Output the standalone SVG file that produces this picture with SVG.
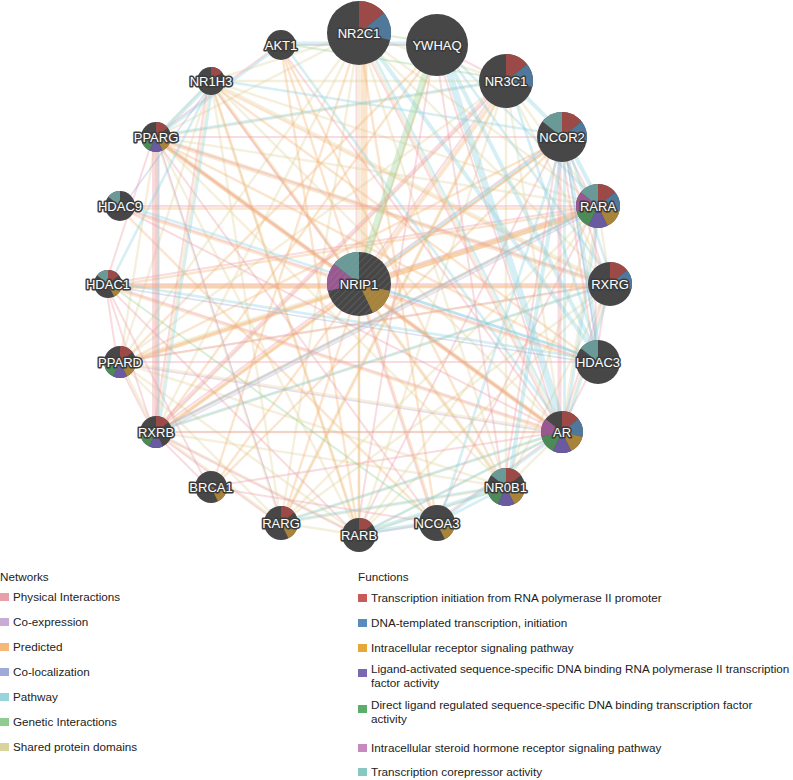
<svg xmlns="http://www.w3.org/2000/svg" xmlns:xlink="http://www.w3.org/1999/xlink" width="793" height="780" viewBox="0 0 793 780">
<style>
.e line{stroke-opacity:.34;stroke-linecap:round}
.sd{stroke:#e2d49a;stroke-width:2.4}
.pr{stroke:#f2b46e;stroke-width:2.4}
.ph{stroke:#ec98a4;stroke-width:2}
.pw{stroke:#88d0e0;stroke-width:2.6}
.ge{stroke:#8fd08f;stroke-width:2}
.co{stroke:#c49ad4;stroke-width:1.6}
.cl{stroke:#97a4dc;stroke-width:1.6}
.w3{stroke-width:4}
.w5{stroke-width:7}
.nd{fill:#474747}
.f0{fill:#9c4a48}.f1{fill:#50789a}.f2{fill:#a8843a}.f3{fill:#6a5aa0}.f4{fill:#4e8a58}.f5{fill:#9a5890}.f6{fill:#6a9a98}
.lb{font-family:"Liberation Sans",Arial,sans-serif;font-size:13px;fill:#fff;stroke:#3c3c3c;stroke-width:3.2;stroke-linejoin:round;paint-order:stroke;text-anchor:middle}
.lg{font-family:"Liberation Sans",Arial,sans-serif;font-size:11.7px;fill:#222}
</style>
<defs>
<path id="s0" d="M0 0L0 -1A1 1 0 0 1 .7818 -.6235Z"/>
<path id="s1" d="M0 0L.7818 -.6235A1 1 0 0 1 .9749 .2225Z"/>
<path id="s2" d="M0 0L.9749 .2225A1 1 0 0 1 .4339 .901Z"/>
<path id="s3" d="M0 0L.4339 .901A1 1 0 0 1 -.4339 .901Z"/>
<path id="s4" d="M0 0L-.4339 .901A1 1 0 0 1 -.9749 .2225Z"/>
<path id="s5" d="M0 0L-.9749 .2225A1 1 0 0 1 -.7818 -.6235Z"/>
<path id="s6" d="M0 0L-.7818 -.6235A1 1 0 0 1 0 -1Z"/>
<pattern id="hatch" width="5" height="5" patternUnits="userSpaceOnUse" patternTransform="rotate(45)">
<line x1="0" y1="0" x2="0" y2="5" stroke="#9a9a9a" stroke-width="1" stroke-opacity=".45"/>
</pattern>
</defs>
<rect width="793" height="780" fill="#fff"/>
<g id="connectors" class="e">
<g id="shared-domains">
<line class="sd" x1="359" y1="33" x2="506" y2="81"/>
<line class="sd" x1="359" y1="33" x2="598" y2="206"/>
<line class="sd" x1="359" y1="33" x2="610" y2="284"/>
<line class="sd" x1="359" y1="33" x2="562" y2="432"/>
<line class="sd" x1="359" y1="33" x2="506" y2="487"/>
<line class="sd" x1="359" y1="33" x2="359" y2="535"/>
<line class="sd" x1="359" y1="33" x2="281" y2="523"/>
<line class="sd" x1="359" y1="33" x2="156" y2="432"/>
<line class="sd" x1="359" y1="33" x2="120" y2="362"/>
<line class="sd" x1="359" y1="33" x2="156" y2="137"/>
<line class="sd" x1="359" y1="33" x2="211" y2="81"/>
<line class="sd" x1="506" y1="81" x2="598" y2="206"/>
<line class="sd" x1="506" y1="81" x2="610" y2="284"/>
<line class="sd" x1="506" y1="81" x2="562" y2="432"/>
<line class="sd" x1="506" y1="81" x2="506" y2="487"/>
<line class="sd" x1="506" y1="81" x2="359" y2="535"/>
<line class="sd" x1="506" y1="81" x2="281" y2="523"/>
<line class="sd" x1="506" y1="81" x2="156" y2="432"/>
<line class="sd" x1="506" y1="81" x2="120" y2="362"/>
<line class="sd" x1="506" y1="81" x2="156" y2="137"/>
<line class="sd" x1="506" y1="81" x2="211" y2="81"/>
<line class="sd" x1="598" y1="206" x2="610" y2="284"/>
<line class="sd" x1="598" y1="206" x2="562" y2="432"/>
<line class="sd" x1="598" y1="206" x2="506" y2="487"/>
<line class="sd" x1="598" y1="206" x2="359" y2="535"/>
<line class="sd" x1="598" y1="206" x2="281" y2="523"/>
<line class="sd" x1="598" y1="206" x2="156" y2="432"/>
<line class="sd" x1="598" y1="206" x2="120" y2="362"/>
<line class="sd" x1="598" y1="206" x2="156" y2="137"/>
<line class="sd" x1="598" y1="206" x2="211" y2="81"/>
<line class="sd" x1="610" y1="284" x2="562" y2="432"/>
<line class="sd" x1="610" y1="284" x2="506" y2="487"/>
<line class="sd" x1="610" y1="284" x2="359" y2="535"/>
<line class="sd" x1="610" y1="284" x2="281" y2="523"/>
<line class="sd" x1="610" y1="284" x2="156" y2="432"/>
<line class="sd" x1="610" y1="284" x2="120" y2="362"/>
<line class="sd" x1="610" y1="284" x2="156" y2="137"/>
<line class="sd" x1="610" y1="284" x2="211" y2="81"/>
<line class="sd" x1="562" y1="432" x2="506" y2="487"/>
<line class="sd" x1="562" y1="432" x2="359" y2="535"/>
<line class="sd" x1="562" y1="432" x2="281" y2="523"/>
<line class="sd" x1="562" y1="432" x2="156" y2="432"/>
<line class="sd" x1="562" y1="432" x2="120" y2="362"/>
<line class="sd" x1="562" y1="432" x2="156" y2="137"/>
<line class="sd" x1="562" y1="432" x2="211" y2="81"/>
<line class="sd" x1="506" y1="487" x2="359" y2="535"/>
<line class="sd" x1="506" y1="487" x2="281" y2="523"/>
<line class="sd" x1="506" y1="487" x2="156" y2="432"/>
<line class="sd" x1="506" y1="487" x2="120" y2="362"/>
<line class="sd" x1="506" y1="487" x2="156" y2="137"/>
<line class="sd" x1="506" y1="487" x2="211" y2="81"/>
<line class="sd" x1="359" y1="535" x2="281" y2="523"/>
<line class="sd" x1="359" y1="535" x2="156" y2="432"/>
<line class="sd" x1="359" y1="535" x2="120" y2="362"/>
<line class="sd" x1="359" y1="535" x2="156" y2="137"/>
<line class="sd" x1="359" y1="535" x2="211" y2="81"/>
<line class="sd" x1="281" y1="523" x2="156" y2="432"/>
<line class="sd" x1="281" y1="523" x2="120" y2="362"/>
<line class="sd" x1="281" y1="523" x2="156" y2="137"/>
<line class="sd" x1="281" y1="523" x2="211" y2="81"/>
<line class="sd" x1="156" y1="432" x2="120" y2="362"/>
<line class="sd" x1="156" y1="432" x2="156" y2="137"/>
<line class="sd" x1="156" y1="432" x2="211" y2="81"/>
<line class="sd" x1="120" y1="362" x2="156" y2="137"/>
<line class="sd" x1="120" y1="362" x2="211" y2="81"/>
<line class="sd" x1="156" y1="137" x2="211" y2="81"/>
</g>
<g id="predicted" transform="translate(0,2.5)">
<line class="pr w5" x1="364" y1="33" x2="364" y2="284"/>
<line class="pr" x1="359" y1="284" x2="437" y2="45"/>
<line class="pr w3" x1="359" y1="284" x2="506" y2="81"/>
<line class="pr" x1="359" y1="284" x2="562" y2="137"/>
<line class="pr w3" x1="359" y1="284" x2="598" y2="206"/>
<line class="pr" x1="359" y1="284" x2="610" y2="284"/>
<line class="pr" x1="359" y1="284" x2="598" y2="362"/>
<line class="pr w3" x1="359" y1="284" x2="562" y2="432"/>
<line class="pr" x1="359" y1="284" x2="506" y2="487"/>
<line class="pr" x1="359" y1="284" x2="437" y2="523"/>
<line class="pr" x1="359" y1="284" x2="359" y2="535"/>
<line class="pr" x1="359" y1="284" x2="281" y2="523"/>
<line class="pr" x1="359" y1="284" x2="211" y2="487"/>
<line class="pr w3" x1="359" y1="284" x2="156" y2="432"/>
<line class="pr" x1="359" y1="284" x2="120" y2="362"/>
<line class="pr w3" x1="359" y1="284" x2="108" y2="284"/>
<line class="pr" x1="359" y1="284" x2="120" y2="206"/>
<line class="pr w3" x1="359" y1="284" x2="156" y2="137"/>
<line class="pr" x1="359" y1="284" x2="211" y2="81"/>
<line class="pr" x1="359" y1="284" x2="281" y2="45"/>
<line class="pr w3" x1="108" y1="284" x2="610" y2="284"/>
<line class="pr w3" x1="120" y1="362" x2="598" y2="206"/>
<line class="pr" x1="120" y1="206" x2="598" y2="206"/>
<line class="pr" x1="211" y1="81" x2="359" y2="535"/>
<line class="pr" x1="156" y1="137" x2="562" y2="432"/>
<line class="pr" x1="281" y1="45" x2="506" y2="487"/>
<line class="pr" x1="120" y1="206" x2="437" y2="523"/>
<line class="pr" x1="108" y1="284" x2="562" y2="432"/>
<line class="pr" x1="211" y1="487" x2="562" y2="137"/>
<line class="pr" x1="281" y1="523" x2="506" y2="81"/>
<line class="pr" x1="211" y1="81" x2="598" y2="362"/>
<line class="pr" x1="156" y1="137" x2="598" y2="362"/>
<line class="pr" x1="437" y1="45" x2="156" y2="432"/>
<line class="pr" x1="437" y1="45" x2="120" y2="362"/>
<line class="pr" x1="562" y1="137" x2="156" y2="432"/>
<line class="pr" x1="562" y1="137" x2="120" y2="362"/>
<line class="pr" x1="359" y1="33" x2="437" y2="523"/>
<line class="pr" x1="359" y1="33" x2="211" y2="487"/>
<line class="pr" x1="281" y1="45" x2="359" y2="535"/>
<line class="pr" x1="211" y1="81" x2="610" y2="284"/>
<line class="pr" x1="156" y1="137" x2="610" y2="284"/>
<line class="pr" x1="108" y1="284" x2="598" y2="206"/>
</g>
<g id="physical" transform="translate(-2.5,0)">
<line class="ph w5" x1="158" y1="137" x2="158" y2="432"/>
<line class="ph" x1="359" y1="284" x2="359" y2="33"/>
<line class="ph" x1="359" y1="284" x2="506" y2="81"/>
<line class="ph" x1="359" y1="284" x2="598" y2="206"/>
<line class="ph" x1="359" y1="284" x2="610" y2="284"/>
<line class="ph" x1="359" y1="284" x2="598" y2="362"/>
<line class="ph" x1="359" y1="284" x2="562" y2="432"/>
<line class="ph" x1="359" y1="284" x2="437" y2="523"/>
<line class="ph" x1="359" y1="284" x2="108" y2="284"/>
<line class="ph" x1="359" y1="284" x2="120" y2="206"/>
<line class="ph" x1="359" y1="284" x2="156" y2="137"/>
<line class="ph" x1="359" y1="284" x2="211" y2="81"/>
<line class="ph" x1="562" y1="137" x2="598" y2="206"/>
<line class="ph" x1="562" y1="137" x2="610" y2="284"/>
<line class="ph w3" x1="562" y1="137" x2="562" y2="432"/>
<line class="ph" x1="562" y1="137" x2="156" y2="432"/>
<line class="ph" x1="562" y1="137" x2="156" y2="137"/>
<line class="ph" x1="562" y1="137" x2="359" y2="535"/>
<line class="ph" x1="598" y1="362" x2="598" y2="206"/>
<line class="ph" x1="598" y1="362" x2="610" y2="284"/>
<line class="ph" x1="598" y1="362" x2="562" y2="432"/>
<line class="ph" x1="598" y1="362" x2="562" y2="137"/>
<line class="ph" x1="598" y1="362" x2="120" y2="362"/>
<line class="ph" x1="108" y1="284" x2="156" y2="137"/>
<line class="ph" x1="108" y1="284" x2="120" y2="362"/>
<line class="ph" x1="108" y1="284" x2="156" y2="432"/>
<line class="ph" x1="108" y1="284" x2="562" y2="432"/>
<line class="ph" x1="108" y1="284" x2="359" y2="535"/>
<line class="ph" x1="108" y1="284" x2="598" y2="206"/>
<line class="ph" x1="108" y1="284" x2="211" y2="487"/>
<line class="ph" x1="120" y1="206" x2="562" y2="432"/>
<line class="ph" x1="120" y1="206" x2="598" y2="206"/>
<line class="ph" x1="437" y1="523" x2="562" y2="432"/>
<line class="ph" x1="437" y1="523" x2="598" y2="206"/>
<line class="ph" x1="437" y1="523" x2="156" y2="137"/>
<line class="ph" x1="437" y1="523" x2="359" y2="535"/>
<line class="ph" x1="211" y1="487" x2="562" y2="432"/>
<line class="ph" x1="211" y1="487" x2="437" y2="523"/>
<line class="ph" x1="211" y1="487" x2="156" y2="432"/>
<line class="ph" x1="281" y1="45" x2="562" y2="432"/>
<line class="ph" x1="281" y1="45" x2="156" y2="137"/>
<line class="ph" x1="281" y1="45" x2="437" y2="45"/>
<line class="ph" x1="437" y1="45" x2="506" y2="487"/>
<line class="ph" x1="437" y1="45" x2="562" y2="432"/>
<line class="ph" x1="437" y1="45" x2="359" y2="535"/>
<line class="ph" x1="437" y1="45" x2="506" y2="81"/>
<line class="ph w3" x1="506" y1="81" x2="156" y2="432"/>
<line class="ph" x1="598" y1="206" x2="156" y2="432"/>
<line class="ph" x1="610" y1="284" x2="156" y2="137"/>
<line class="ph" x1="610" y1="284" x2="120" y2="362"/>
<line class="ph" x1="610" y1="284" x2="562" y2="432"/>
<line class="ph" x1="156" y1="432" x2="120" y2="362"/>
<line class="ph" x1="156" y1="432" x2="211" y2="81"/>
<line class="ph" x1="156" y1="432" x2="359" y2="535"/>
<line class="ph" x1="156" y1="432" x2="281" y2="523"/>
<line class="ph" x1="156" y1="432" x2="562" y2="432"/>
<line class="ph" x1="506" y1="487" x2="562" y2="137"/>
<line class="ph" x1="359" y1="33" x2="562" y2="432"/>
</g>
<g id="pathway" transform="translate(2.5,-1.5)">
<line class="pw w3" x1="562" y1="137" x2="598" y2="206"/>
<line class="pw" x1="562" y1="137" x2="610" y2="284"/>
<line class="pw w3" x1="562" y1="137" x2="598" y2="362"/>
<line class="pw" x1="562" y1="137" x2="562" y2="432"/>
<line class="pw w3" x1="562" y1="137" x2="506" y2="487"/>
<line class="pw" x1="562" y1="137" x2="437" y2="523"/>
<line class="pw" x1="506" y1="81" x2="598" y2="362"/>
<line class="pw w3" x1="506" y1="81" x2="562" y2="137"/>
<line class="pw w5" x1="437" y1="45" x2="562" y2="432"/>
<line class="pw w3" x1="437" y1="45" x2="598" y2="362"/>
<line class="pw" x1="437" y1="45" x2="598" y2="206"/>
<line class="pw" x1="437" y1="45" x2="610" y2="284"/>
<line class="pw w3" x1="359" y1="33" x2="598" y2="362"/>
<line class="pw" x1="359" y1="33" x2="562" y2="432"/>
<line class="pw w3" x1="359" y1="535" x2="506" y2="487"/>
<line class="pw w3" x1="359" y1="535" x2="437" y2="523"/>
<line class="pw" x1="359" y1="535" x2="562" y2="432"/>
<line class="pw" x1="281" y1="523" x2="562" y2="432"/>
<line class="pw" x1="281" y1="523" x2="506" y2="487"/>
<line class="pw" x1="598" y1="206" x2="562" y2="432"/>
<line class="pw" x1="610" y1="284" x2="562" y2="432"/>
<line class="pw" x1="598" y1="206" x2="156" y2="432"/>
<line class="pw" x1="610" y1="284" x2="156" y2="432"/>
<line class="pw" x1="156" y1="137" x2="156" y2="432"/>
<line class="pw" x1="211" y1="81" x2="156" y2="432"/>
<line class="pw" x1="108" y1="284" x2="598" y2="362"/>
<line class="pw" x1="120" y1="206" x2="598" y2="362"/>
<line class="pw" x1="359" y1="284" x2="598" y2="362"/>
<line class="pw" x1="359" y1="284" x2="562" y2="137"/>
<line class="pw w3" x1="281" y1="45" x2="437" y2="45"/>
<line class="pw" x1="281" y1="45" x2="562" y2="432"/>
<line class="pw" x1="281" y1="45" x2="156" y2="137"/>
<line class="pw w3" x1="211" y1="81" x2="156" y2="137"/>
<line class="pw" x1="211" y1="81" x2="108" y2="284"/>
<line class="pw" x1="211" y1="81" x2="562" y2="137"/>
<line class="pw" x1="156" y1="137" x2="506" y2="81"/>
<line class="pw" x1="437" y1="523" x2="562" y2="432"/>
<line class="pw" x1="437" y1="523" x2="506" y2="487"/>
</g>
<g id="genetic" transform="translate(-1.5,-2)">
<line class="ge w5" x1="437" y1="45" x2="359" y2="284"/>
<line class="ge" x1="281" y1="45" x2="506" y2="81"/>
<line class="ge" x1="359" y1="33" x2="437" y2="45"/>
<line class="ge" x1="108" y1="284" x2="437" y2="523"/>
</g>
<g id="coexp-coloc" transform="translate(1.5,2)">
<line class="co" x1="598" y1="206" x2="156" y2="432"/>
<line class="co" x1="562" y1="432" x2="120" y2="362"/>
<line class="co" x1="281" y1="523" x2="156" y2="137"/>
<line class="cl" x1="562" y1="137" x2="598" y2="362"/>
<line class="cl" x1="598" y1="362" x2="108" y2="284"/>
<line class="cl" x1="211" y1="81" x2="120" y2="206"/>
</g>
</g>
<g id="n-NR2C1" transform="translate(359,33)"><circle r="32" class="nd"/><use href="#s0" class="f0" transform="scale(32)"/><use href="#s1" class="f1" transform="scale(32)"/><text class="lb" y="4.5">NR2C1</text></g>
<g id="n-YWHAQ" transform="translate(437,45)"><circle r="31" class="nd"/><text class="lb" y="4.5">YWHAQ</text></g>
<g id="n-NR3C1" transform="translate(506,81)"><circle r="27" class="nd"/><use href="#s0" class="f0" transform="scale(27)"/><use href="#s1" class="f1" transform="scale(27)"/><text class="lb" y="4.5">NR3C1</text></g>
<g id="n-NCOR2" transform="translate(562,137)"><circle r="25" class="nd"/><use href="#s0" class="f0" transform="scale(25)"/><use href="#s1" class="f1" transform="scale(25)"/><use href="#s6" class="f6" transform="scale(25)"/><text class="lb" y="4.5">NCOR2</text></g>
<g id="n-RARA" transform="translate(598,206)"><circle r="22" class="nd"/><use href="#s0" class="f0" transform="scale(22)"/><use href="#s1" class="f1" transform="scale(22)"/><use href="#s2" class="f2" transform="scale(22)"/><use href="#s3" class="f3" transform="scale(22)"/><use href="#s4" class="f4" transform="scale(22)"/><use href="#s5" class="f5" transform="scale(22)"/><use href="#s6" class="f6" transform="scale(22)"/><text class="lb" y="4.5">RARA</text></g>
<g id="n-RXRG" transform="translate(610,284)"><circle r="22" class="nd"/><use href="#s0" class="f0" transform="scale(22)"/><use href="#s1" class="f1" transform="scale(22)"/><text class="lb" y="4.5">RXRG</text></g>
<g id="n-HDAC3" transform="translate(598,362)"><circle r="22" class="nd"/><use href="#s6" class="f6" transform="scale(22)"/><text class="lb" y="4.5">HDAC3</text></g>
<g id="n-AR" transform="translate(562,432)"><circle r="21" class="nd"/><use href="#s0" class="f0" transform="scale(21)"/><use href="#s1" class="f1" transform="scale(21)"/><use href="#s2" class="f2" transform="scale(21)"/><use href="#s3" class="f3" transform="scale(21)"/><use href="#s4" class="f4" transform="scale(21)"/><use href="#s5" class="f5" transform="scale(21)"/><text class="lb" y="4.5">AR</text></g>
<g id="n-NR0B1" transform="translate(506,487)"><circle r="19" class="nd"/><use href="#s0" class="f0" transform="scale(19)"/><use href="#s2" class="f2" transform="scale(19)"/><use href="#s3" class="f3" transform="scale(19)"/><use href="#s4" class="f4" transform="scale(19)"/><use href="#s6" class="f6" transform="scale(19)"/><text class="lb" y="4.5">NR0B1</text></g>
<g id="n-NCOA3" transform="translate(437,523)"><circle r="18" class="nd"/><use href="#s2" class="f2" transform="scale(18)"/><text class="lb" y="4.5">NCOA3</text></g>
<g id="n-RARB" transform="translate(359,535)"><circle r="17" class="nd"/><use href="#s0" class="f0" transform="scale(17)"/><text class="lb" y="4.5">RARB</text></g>
<g id="n-RARG" transform="translate(281,523)"><circle r="17" class="nd"/><use href="#s0" class="f0" transform="scale(17)"/><use href="#s2" class="f2" transform="scale(17)"/><text class="lb" y="4.5">RARG</text></g>
<g id="n-BRCA1" transform="translate(211,487)"><circle r="16" class="nd"/><use href="#s2" class="f2" transform="scale(16)"/><text class="lb" y="4.5">BRCA1</text></g>
<g id="n-RXRB" transform="translate(156,432)"><circle r="16" class="nd"/><use href="#s0" class="f0" transform="scale(16)"/><use href="#s3" class="f3" transform="scale(16)"/><use href="#s4" class="f4" transform="scale(16)"/><text class="lb" y="4.5">RXRB</text></g>
<g id="n-PPARD" transform="translate(120,362)"><circle r="16" class="nd"/><use href="#s0" class="f0" transform="scale(16)"/><use href="#s2" class="f2" transform="scale(16)"/><use href="#s3" class="f3" transform="scale(16)"/><use href="#s4" class="f4" transform="scale(16)"/><text class="lb" y="4.5">PPARD</text></g>
<g id="n-HDAC1" transform="translate(108,284)"><circle r="14" class="nd"/><use href="#s0" class="f0" transform="scale(14)"/><use href="#s2" class="f2" transform="scale(14)"/><use href="#s6" class="f6" transform="scale(14)"/><text class="lb" y="4.5">HDAC1</text></g>
<g id="n-HDAC9" transform="translate(120,206)"><circle r="15" class="nd"/><use href="#s6" class="f6" transform="scale(15)"/><text class="lb" y="4.5">HDAC9</text></g>
<g id="n-PPARG" transform="translate(156,137)"><circle r="15" class="nd"/><use href="#s0" class="f0" transform="scale(15)"/><use href="#s2" class="f2" transform="scale(15)"/><use href="#s3" class="f3" transform="scale(15)"/><use href="#s4" class="f4" transform="scale(15)"/><text class="lb" y="4.5">PPARG</text></g>
<g id="n-NR1H3" transform="translate(211,81)"><circle r="14" class="nd"/><use href="#s0" class="f0" transform="scale(14)"/><text class="lb" y="4.5">NR1H3</text></g>
<g id="n-AKT1" transform="translate(281,45)"><circle r="15" class="nd"/><text class="lb" y="4.5">AKT1</text></g>
<g id="n-NRIP1" transform="translate(359,284)"><circle r="32" class="nd"/><use href="#s2" class="f2" transform="scale(32)"/><use href="#s5" class="f5" transform="scale(32)"/><use href="#s6" class="f6" transform="scale(32)"/><circle r="32" fill="url(#hatch)"/><text class="lb" y="4.5">NRIP1</text></g>
<g id="legend-networks">
<text class="lg" x="0" y="581">Networks</text>
<rect x="0" y="593" width="9" height="8" fill="#e8a0a8"/><text class="lg" x="13" y="601">Physical Interactions</text>
<rect x="0" y="618" width="9" height="8" fill="#c8acd4"/><text class="lg" x="13" y="626">Co-expression</text>
<rect x="0" y="643" width="9" height="8" fill="#f5b878"/><text class="lg" x="13" y="651">Predicted</text>
<rect x="0" y="668" width="9" height="8" fill="#a0aad8"/><text class="lg" x="13" y="676">Co-localization</text>
<rect x="0" y="693" width="9" height="8" fill="#98d4dc"/><text class="lg" x="13" y="701">Pathway</text>
<rect x="0" y="718" width="9" height="8" fill="#90cc90"/><text class="lg" x="13" y="726">Genetic Interactions</text>
<rect x="0" y="743" width="9" height="8" fill="#d8d4a0"/><text class="lg" x="13" y="751">Shared protein domains</text>
</g>
<g id="legend-functions">
<text class="lg" x="358" y="581">Functions</text>
<rect x="358" y="594" width="9" height="8" fill="#c85a58"/><text class="lg" x="371" y="602">Transcription initiation from RNA polymerase II promoter</text>
<rect x="358" y="619" width="9" height="8" fill="#5a8cbb"/><text class="lg" x="371" y="627">DNA-templated transcription, initiation</text>
<rect x="358" y="644" width="9" height="8" fill="#e8a838"/><text class="lg" x="371" y="652">Intracellular receptor signaling pathway</text>
<rect x="358" y="669" width="9" height="8" fill="#7a68b0"/><text class="lg" x="371" y="673">Ligand-activated sequence-specific DNA binding RNA polymerase II transcription</text><text class="lg" x="371" y="687">factor activity</text>
<rect x="358" y="705" width="9" height="8" fill="#5aae6a"/><text class="lg" x="371" y="709">Direct ligand regulated sequence-specific DNA binding transcription factor</text><text class="lg" x="371" y="723">activity</text>
<rect x="358" y="744" width="9" height="8" fill="#c888c0"/><text class="lg" x="371" y="752">Intracellular steroid hormone receptor signaling pathway</text>
<rect x="358" y="768" width="9" height="8" fill="#88c8c0"/><text class="lg" x="371" y="776">Transcription corepressor activity</text>
</g>
</svg>
